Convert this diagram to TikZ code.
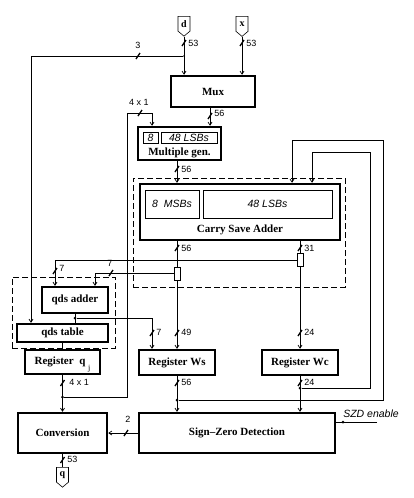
\documentclass[tikz,border=0pt]{standalone}
\usepackage{fontspec}
\setmainfont{Liberation Serif}
\setsansfont{Liberation Sans}
\usetikzlibrary{arrows.meta,shapes.symbols}

\tikzset{
  block/.style={draw, line width=2.5pt, inner sep=0pt, font=\fontsize{11}{12}\selectfont\bfseries},
  caption/.style={inner sep=0pt, font=\fontsize{11}{12}\selectfont\bfseries},
  field/.style={draw, line width=0.6pt, inner sep=0pt, font=\fontsize{10.5}{12}\selectfont\sffamily\itshape},
  region/.style={draw, line width=0.6pt, dash pattern=on 6pt off 3pt, inner sep=0pt},
  port/.style={draw, line width=0.6pt, signal, signal to=south, signal pointer angle=100,
    minimum width=12pt, minimum height=18pt, inner sep=1pt, anchor=north,
    font=\fontsize{10}{11}\selectfont\bfseries},
  splitter/.style={draw, line width=0.6pt, minimum width=6pt, minimum height=13pt, inner sep=0pt},
  dot/.style={circle, fill, inner sep=0pt, minimum size=3pt},
  lbl/.style={inner sep=1pt, font=\fontsize{9}{10}\selectfont\sffamily},
  busslash/.pic={\draw[line width=1.3pt] (-2,3) -- (2,-3);},
}

\begin{document}
\begin{tikzpicture}[x=1pt, y=-1pt, line width=0.7pt, >={Straight Barb[length=3pt,width=4pt]}]
   \useasboundingbox (0,0) rectangle (414,498);
   % dashed regions
   \node[region, minimum width=212pt, minimum height=109pt] (csareg) at (239,232.5) {};
   \node[region, minimum width=103pt, minimum height=71pt] (qdsreg) at (63.5,312.5) {};
   % ports
   \node[port] (d) at (184,16) {d};
   \node[port] (x) at (242,16) {x};
   \node[port] (q) at (62.5,467) {q};
   % blocks
   \node[block, minimum width=84pt, minimum height=31pt] (mux) at (213,91.5) {Mux};
   \node[block, minimum width=83pt, minimum height=33pt] (mgen) at (179.5,143.5) {};
   \node[field, minimum width=15pt, minimum height=11pt] (mg8) at (150.5,137.5) {8};
   \node[field, minimum width=56pt, minimum height=11pt] (mg48) at (189,137.5) {48 LSBs};
   \node[caption] (mgtext) at (179.5,153) {Multiple gen.};
   \node[block, minimum width=200pt, minimum height=56pt] (csa) at (240,212) {};
   \node[field, minimum width=54pt, minimum height=28pt] (msb) at (172,204) {8\ \ MSBs};
   \node[field, minimum width=129pt, minimum height=28pt] (lsb) at (267.5,204) {48 LSBs};
   \node[caption] (csatext) at (240,229.5) {Carry Save Adder};
   \node[splitter] (wssplit) at (177,273.5) {};
   \node[splitter] (wcsplit) at (300,260) {};
   \node[block, minimum width=66pt, minimum height=26pt] (qadd) at (75,300) {qds adder};
   \node[block, minimum width=91pt, minimum height=18pt] (qtab) at (62.5,333) {qds table};
   \node[block, minimum width=75pt, minimum height=24pt] (qj) at (62.5,362) {Register\ \ q\ \raisebox{-6pt}[0pt][0pt]{\fontsize{8}{8}\selectfont\mdseries j}};
   \node[block, minimum width=76pt, minimum height=25pt] (ws) at (177,362.5) {Register Ws};
   \node[block, minimum width=76pt, minimum height=25pt] (wc) at (300,362.5) {Register Wc};
   \node[block, minimum width=89pt, minimum height=40pt] (conv) at (62.5,433) {Conversion};
   \node[block, minimum width=196pt, minimum height=40pt] (szd) at (237,433) {Sign--Zero Detection};
   % junctions and corners
   \node[dot, minimum size=2pt] (dj) at (184,56) {};
   \node[dot] (qadot) at (75,318) {};
   \node[dot] (qjdot) at (62.5,397) {};
   \node[dot] (wsdot) at (177,400) {};
   \node[dot] (wcdot) at (300,388) {};
   \node[dot] (endot) at (343,422) {};
   \coordinate (loop) at (127,113);
   \coordinate (fbws) at (383,140);
   \coordinate (fbwc) at (370,152);
   \coordinate (en) at (377,422);
   % connectors
   \draw[->] (d.south) -- (d.south |- mux.north);
   \draw[->] (x.south) -- (x.south |- mux.north);
   \draw[->] (dj) -| ([xshift=-31.5pt]qtab.north);
   \draw[->] ([xshift=-3pt]mux.south) -- ([xshift=-3pt]mux.south |- mgen.north);
   \draw[->] (qjdot) -| (loop) -| ([xshift=-27.5pt]mgen.north);
   \draw[->] ([xshift=-2.5pt]mgen.south) -- ([xshift=-2.5pt]mgen.south |- csa.north);
   \draw (csa.south -| wssplit) -- (wssplit.north);
   \draw[->] (wssplit.south) -- (ws.north);
   \draw (csa.south -| wcsplit) -- (wcsplit.north);
   \draw[->] (wcsplit.south) -- (wc.north);
   \draw[->] (wcsplit.west) -| ([xshift=-20pt]qadd.north);
   \draw[->] (wssplit.west) -| ([xshift=20pt]qadd.north);
   \draw (qadd.south) -- (qadd.south |- qtab.north);
   \draw[->] (qadot) -| ([xshift=-25pt]ws.north);
   \draw (qtab.south) -- (qj.north);
   \draw[->] (qj.south) -- (conv.north);
   \draw[->] (ws.south) -- (ws.south |- szd.north);
   \draw[->] (wc.south) -- (wc.south |- szd.north);
   \draw[->] (wsdot) -| (fbws) -| ([xshift=52pt]csa.north);
   \draw[->] (wcdot) -| (fbwc) -| ([xshift=72pt]csa.north);
   \draw[->] (szd.west) -- (conv.east);
   \draw (en) -- (szd.east |- en);
   \draw (conv.south) -- (q.north);
   \node[inner sep=0pt, anchor=south, font=\fontsize{10.5}{11}\selectfont\sffamily\itshape] (entext) at (371,418) {SZD enable};
   % bus widths
   \pic at (184,43) {busslash};   \node[lbl, anchor=west] (n1) at (187,43) {53};
   \pic at (242,43) {busslash};   \node[lbl, anchor=west] (n2) at (245,43) {53};
   \pic at (138,56) {busslash};   \node[lbl, anchor=south] (n3) at (138,50) {3};
   \pic at (210,116) {busslash};  \node[lbl, anchor=west] (n4) at (213,113) {56};
   \pic at (140,113) {busslash};  \node[lbl, anchor=south] (n5) at (139,107) {4 x 1};
   \pic at (177,169) {busslash};  \node[lbl, anchor=west] (n6) at (180,169) {56};
   \pic at (177,248) {busslash};  \node[lbl, anchor=west] (n7) at (180,248) {56};
   \pic at (300,248) {busslash};  \node[lbl, anchor=west] (n8) at (303,248) {31};
   \pic at (55,271) {busslash};   \node[lbl, anchor=west] (n9) at (58,268) {7};
   \pic at (111,273) {busslash};  \node[lbl, anchor=south] (n10) at (110,268) {7};
   \pic at (152,333) {busslash};  \node[lbl, anchor=west] (n11) at (155,332) {7};
   \pic at (177,333) {busslash};  \node[lbl, anchor=west] (n12) at (180,332) {49};
   \pic at (300,333) {busslash};  \node[lbl, anchor=west] (n13) at (303,332) {24};
   \pic at (62.5,383) {busslash}; \node[lbl, anchor=west] (n14) at (68,382) {4 x 1};
   \pic at (177,383) {busslash};  \node[lbl, anchor=west] (n15) at (180,382) {56};
   \pic at (300,383) {busslash};  \node[lbl, anchor=west] (n16) at (303,382) {24};
   \pic at (126,433) {busslash};  \node[lbl, anchor=south] (n17) at (128,424) {2};
   \pic at (62.5,460) {busslash}; \node[lbl, anchor=west] (n18) at (66,459) {53};
\end{tikzpicture}
\end{document}
